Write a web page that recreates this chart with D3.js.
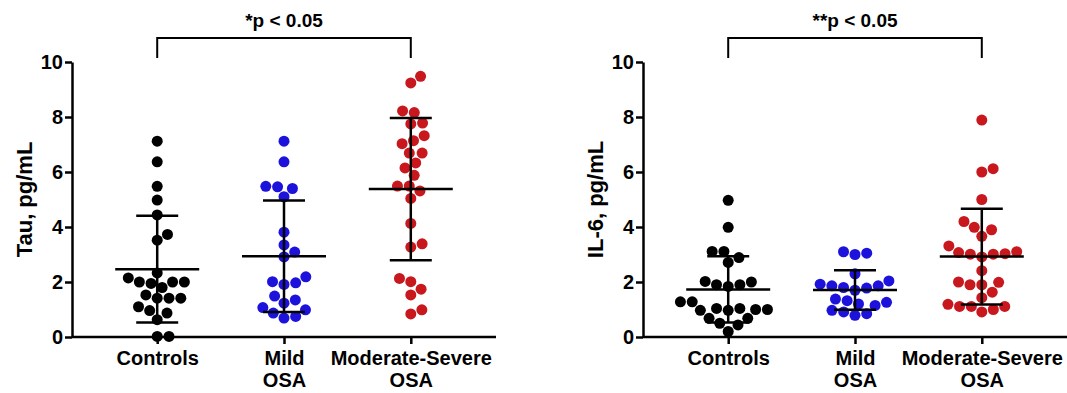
<!DOCTYPE html>
<html>
<head>
<meta charset="utf-8">
<script src="https://cdnjs.cloudflare.com/ajax/libs/d3/7.8.5/d3.min.js"></script>
<style>
  body { margin: 0; background: #fff; }
  text { font-family: "Liberation Sans", Arial, sans-serif; font-weight: bold; fill: #000; }
</style>
</head>
<body>
<svg id="chart" width="1067" height="393"></svg>
<script>
// groups and labels
const groups = ["Controls", "Mild OSA", "Moderate-Severe OSA"];
const groupLines = [["Controls"], ["Mild", "OSA"], ["Moderate-Severe", "OSA"]];
const groupColors = ["#000000", "#1c12dc", "#c8171d"];
const yTicks = [0, 2, 4, 6, 8, 10];

// Tau, pg/mL
const tauControls = [7.12, 6.37, 5.48, 4.98, 4.44, 3.73, 3.52, 2.33, 2.15, 2.0, 2.0, 1.95, 2.0, 1.80,
  1.53, 1.41, 1.41, 1.41, 1.1, 0.96, 0.87, 0.63, 0.02, 0.02];
const tauMild = [7.12, 6.37, 5.48, 5.40, 5.46, 5.10, 3.81, 3.35, 3.09, 2.91, 2.19, 1.97, 1.91, 2.01,
  1.49, 1.35, 1.23, 1.07, 0.87, 0.99, 0.69, 0.75];
const tauModSev = [9.48, 9.24, 8.16, 8.22, 7.75, 7.78, 7.32, 7.03, 7.14, 6.69, 6.69, 6.33, 6.15, 5.88,
  5.49, 5.31, 5.49, 5.04, 4.13, 3.27, 3.39, 2.13, 2.01, 1.74, 1.53, 0.84, 0.99];

// IL-6, pg/mL
const il6Controls = [4.97, 3.99, 3.11, 3.11, 2.89, 2.71, 2.02, 2.0, 1.90, 1.90, 1.84, 1.28, 1.28,
  1.04, 1.0, 0.97, 0.97, 1.0, 1.04, 0.68, 0.68, 0.50, 0.44, 0.20];
const il6Mild = [3.05, 3.0, 3.1, 2.3, 2.04, 1.92, 1.86, 1.86, 1.8, 1.78, 1.7, 1.38, 1.32, 1.26, 1.15,
  1.2, 0.97, 0.91, 0.85, 0.79];
const il6ModSev = [7.89, 6.12, 6.0, 5.0, 4.2, 3.99, 3.9, 3.66, 3.31, 3.1, 3.07, 3.03, 3.01, 3.01, 2.91,
  2.41, 2.0, 1.99, 1.90, 1.90, 1.63, 1.43, 1.19, 1.11, 1.11, 1.11, 1.0, 0.91];

const panels = [
  { left: 72, right: 496, title: "Tau, pg/mL", sig: "*p < 0.05", data: [tauControls, tauMild, tauModSev] },
  { left: 643, right: 1067, title: "IL-6, pg/mL", sig: "**p < 0.05", data: [il6Controls, il6Mild, il6ModSev] }
];

const svg = d3.select("#chart");
const yTop = 62, yBottom = 337;
const r = 5.5, gap = 11.8;   // dot radius, min distance between dot centres

// simple beeswarm: place each dot as close to the centre line as it fits
function swarm(values, y) {
  const placed = [];
  values.map(v => ({ v: v, py: y(v) }))
    .sort((a, b) => a.v - b.v)
    .forEach(p => {
      const cands = [0];
      placed.forEach(q => {
        const dy = Math.abs(q.py - p.py);
        if (dy < gap) {
          const dx = Math.sqrt(gap * gap - dy * dy);
          cands.push(q.dx + dx, q.dx - dx);
        }
      });
      cands.sort((a, b) => Math.abs(a) - Math.abs(b));
      p.dx = cands.find(c => placed.every(q => (q.dx - c) ** 2 + (q.py - p.py) ** 2 >= gap * gap - 0.01));
      placed.push(p);
    });
  return placed;
}

panels.forEach(panel => {
  const g = svg.append("g");
  const y = d3.scaleLinear().domain([0, 10]).range([yBottom, yTop]);
  const x = d3.scalePoint().domain(groups).range([panel.left, panel.right]).padding(0.672);

  // y axis
  const yAxis = g.append("g")
    .attr("transform", "translate(" + panel.left + ",0)")
    .call(d3.axisLeft(y).tickValues(yTicks).tickSize(7).tickSizeOuter(0).tickPadding(2));
  yAxis.selectAll("path, line").attr("stroke", "#000").attr("stroke-width", 2.5);
  yAxis.selectAll("text").style("font-size", "20px");

  // x axis
  const xAxis = g.append("g")
    .attr("transform", "translate(0," + yBottom + ")")
    .call(d3.axisBottom(x).tickSize(7).tickSizeOuter(0));
  xAxis.select(".domain").attr("d", "M" + panel.left + ",0H" + panel.right);
  xAxis.selectAll("path, line").attr("stroke", "#000").attr("stroke-width", 2.5);
  xAxis.selectAll("text").remove();
  xAxis.selectAll(".tick").each(function (d, i) {
    const t = d3.select(this).append("text")
      .attr("text-anchor", "middle")
      .style("font-size", "20px");
    groupLines[i].forEach((line, j) => {
      t.append("tspan").attr("x", 0).attr("y", 28 + j * 22).text(line);
    });
  });

  // axis title
  g.append("text")
    .attr("transform", "translate(" + (panel.left - 48) + "," + ((yTop + yBottom) / 2) + ") rotate(-90)")
    .attr("text-anchor", "middle")
    .attr("dy", "0.36em")
    .style("font-size", "22px")
    .text(panel.title);

  // dots
  panel.data.forEach((vals, i) => {
    const cx = x(groups[i]);
    g.selectAll(null)
      .data(swarm(vals, y))
      .enter()
      .append("circle")
      .attr("cx", d => cx + d.dx)
      .attr("cy", d => d.py)
      .attr("r", r)
      .attr("fill", groupColors[i]);
  });

  // mean +/- SD bars
  panel.data.forEach((vals, i) => {
    const cx = x(groups[i]);
    const m = d3.mean(vals), sd = d3.deviation(vals);
    const bar = g.append("g").attr("stroke", "#000").attr("stroke-width", 2.5);
    bar.append("line").attr("x1", cx).attr("x2", cx).attr("y1", y(m + sd)).attr("y2", y(m - sd));
    bar.append("line").attr("x1", cx - 42).attr("x2", cx + 42).attr("y1", y(m)).attr("y2", y(m));
    [m + sd, m - sd].forEach(v => {
      bar.append("line").attr("x1", cx - 21).attr("x2", cx + 21).attr("y1", y(v)).attr("y2", y(v));
    });
  });

  // significance bracket
  const x1 = x(groups[0]), x2 = x(groups[2]);
  g.append("path")
    .attr("d", "M" + x1 + ",58V38H" + x2 + "V58")
    .attr("fill", "none")
    .attr("stroke", "#000")
    .attr("stroke-width", 2);
  g.append("text")
    .attr("x", (x1 + x2) / 2)
    .attr("y", 27)
    .attr("text-anchor", "middle")
    .style("font-size", "19px")
    .text(panel.sig);
});
</script>
</body>
</html>
